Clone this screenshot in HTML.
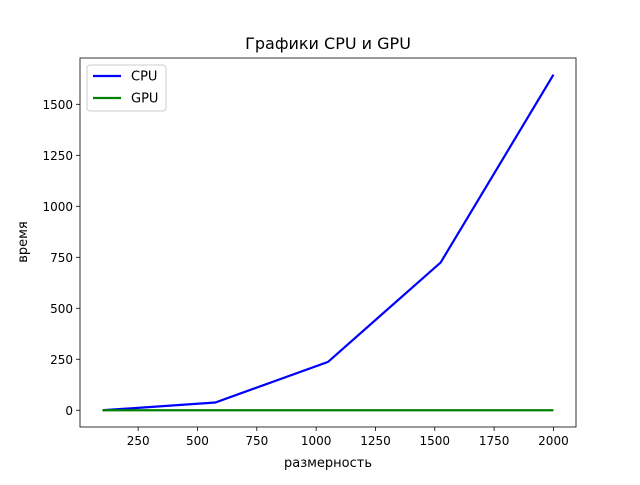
<!DOCTYPE html>
<html><head><meta charset="utf-8"><style>
body{margin:0;background:#fff;}
svg text{font-family:"DejaVu Sans","Liberation Sans",sans-serif;}
</style></head><body>
<svg id="chart" width="640" height="480">
<rect width="640" height="480" fill="#fff"/>
<text x="328" y="49" font-size="16" text-anchor="middle">Графики CPU и GPU</text>
<g id="plot"></g>
<rect x="80" y="58" width="496" height="369" fill="none" stroke="#000" stroke-width="0.8"/>
<text x="328" y="467" font-size="13" text-anchor="middle">размерность</text>
<text x="27" y="242" font-size="13" text-anchor="middle" transform="rotate(-90 27 242)">время</text>
<g>
<rect x="87" y="65" width="79" height="46" rx="3" fill="#fff" stroke="#ccc"/>
<line x1="93" y1="76" x2="121" y2="76" stroke="#0000ff" stroke-width="2.2"/>
<text x="131" y="80.5" font-size="13">CPU</text>
<line x1="93" y1="98" x2="121" y2="98" stroke="#008000" stroke-width="2.2"/>
<text x="131" y="102.5" font-size="13">GPU</text>
</g>
</svg>
<script>
const sizes=[100,575,1050,1525,2000];
const cpuTimes=[0,38,237,725,1645];
const gpuTimes=[0,0,0,0,0];
const xTicks=[250,500,750,1000,1250,1500,1750,2000];
const yTicks=[0,250,500,750,1000,1250,1500];
const X0=80,X1=576,Y0=427,Y1=58;
const xmin=5,xmax=2095,ymin=-82,ymax=1727;
const sx=v=>X0+(v-xmin)/(xmax-xmin)*(X1-X0);
const sy=v=>Y0-(v-ymin)/(ymax-ymin)*(Y0-Y1);
const g=document.getElementById('plot');
const NS='http://www.w3.org/2000/svg';
function mk(t,a){const e=document.createElementNS(NS,t);for(const k in a)e.setAttribute(k,a[k]);g.appendChild(e);return e;}
xTicks.forEach(v=>{
 const l=mk('line',{x1:sx(v),x2:sx(v),y1:Y0,y2:Y0+4,stroke:'#000','stroke-width':0.8});
 
 
 const t=mk('text',{x:sx(v),y:Y0+18,'font-size':12,'text-anchor':'middle'});t.textContent=v;
 
 
});
yTicks.forEach(v=>{
 const l=mk('line',{x1:X0-4,x2:X0,y1:sy(v),y2:sy(v),stroke:'#000','stroke-width':0.8});
 
 
 const t=mk('text',{x:X0-7,y:sy(v)+4.5,'font-size':12,'text-anchor':'end'});t.textContent=v;
 
 
});
const cpu=mk('polyline',{points:sizes.map((x,i)=>sx(x)+','+sy(cpuTimes[i])).join(' '),fill:'none',stroke:'#0000ff','stroke-width':2.2});


const gpu=mk('polyline',{points:sizes.map((x,i)=>sx(x)+','+sy(gpuTimes[i])).join(' '),fill:'none',stroke:'#008000','stroke-width':2.2});


</script>
</body></html>
